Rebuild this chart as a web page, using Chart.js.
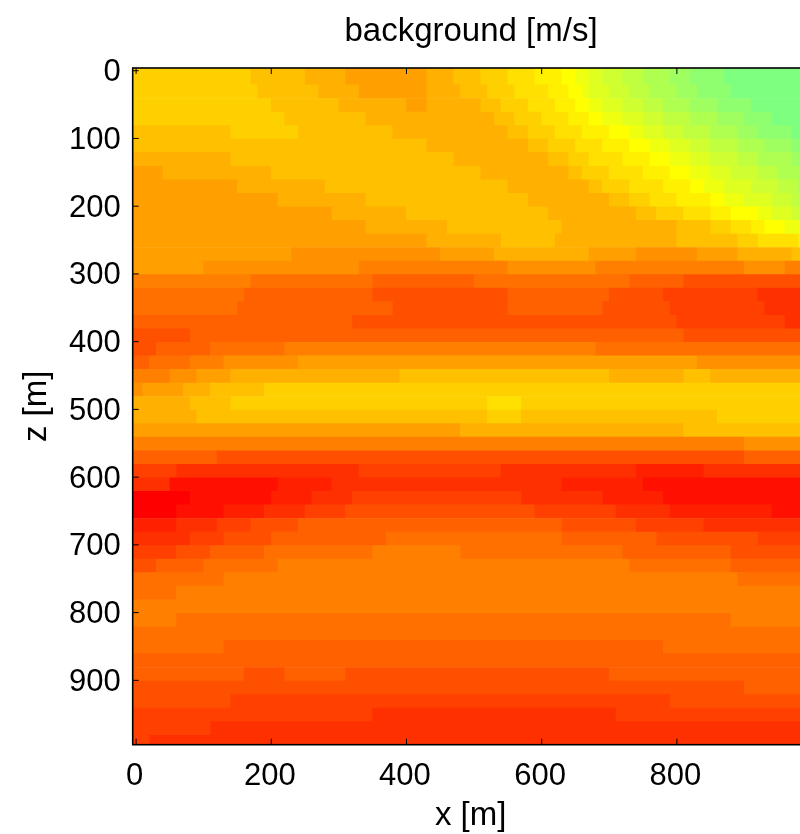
<!DOCTYPE html>
<html><head><meta charset="utf-8">
<style>html,body{margin:0;padding:0;background:#fff;overflow:hidden}
#wrap{width:800px;height:834px;overflow:hidden;position:relative}</style>
<script src="https://cdn.jsdelivr.net/npm/chart.js@4/dist/chart.umd.min.js"></script>
</head><body>
<div id="wrap"><canvas id="c" width="942" height="834"></canvas></div>
<script>
const titleText = "background [m/s]";
const xLabel = "x [m]";
const zLabel = "z [m]";
const xTicks = [0,200,400,600,800];
const zTicks = [0,100,200,300,400,500,600,700,800,900];
const xMin = -5, xMax = 995, zMin = -4, zMax = 995;
// centre depth of each 20 m row of the image
const rowZ = [-9,11,31,51,71,91,111,131,151,171,191,211,231,251,271,291,311,331,351,371,391,411,431,451,471,491,511,531,551,571,591,611,631,651,671,691,711,731,751,771,791,811,831,851,871,891,911,931,951,971,991];
// each row: colour-map level, x where that level ends, level, x where it ends, ...
// (level 0 = red, 8 = orange, 16 = yellow, 24 = light green)
const rowRuns = [
[13,170,12,250,11,310,10,430,11,470,12,510,13,550,14,590,15,630,16,650,17,670,18,690,19,720,20,750,21,790,22,820,23,870,24,1000],
[13,170,12,250,11,310,10,430,11,470,12,510,13,550,14,590,15,630,16,650,17,670,18,690,19,720,20,750,21,790,22,820,23,870,24,1000],
[13,180,12,270,11,330,10,430,11,480,12,520,13,560,14,610,15,640,16,660,17,670,18,700,19,730,20,760,21,800,22,830,23,880,24,1000],
[13,200,12,300,11,400,10,430,11,510,12,540,13,580,14,620,15,650,16,670,17,690,18,720,19,750,20,780,21,820,22,860,23,910,24,1000],
[13,220,12,340,11,530,12,560,13,600,14,640,15,670,16,690,17,720,18,750,19,780,20,820,21,860,22,900,23,940,24,1000],
[12,140,13,240,12,380,11,550,12,580,13,620,14,660,15,700,16,730,17,750,18,780,19,810,20,850,21,890,22,920,23,970,24,1000],
[12,430,11,580,12,610,13,650,14,690,15,730,16,760,17,790,18,820,19,850,20,890,21,930,22,970,23,1000],
[11,140,12,470,11,610,12,640,13,670,14,720,15,760,16,790,17,820,18,850,19,890,20,920,21,970,22,1000],
[10,40,11,200,12,510,11,640,12,660,13,700,14,750,15,790,16,820,17,850,18,880,19,920,20,950,21,1000],
[10,150,11,280,12,550,11,670,12,690,13,730,14,780,15,820,16,840,17,870,18,910,19,950,20,980,21,1000],
[10,210,11,340,12,580,11,700,12,730,13,760,14,800,15,850,16,870,17,900,18,940,19,970,20,1000],
[10,290,11,400,12,610,11,740,12,770,13,810,14,850,15,880,16,920,17,940,18,970,19,1000],
[10,340,11,460,12,630,11,800,12,850,13,880,14,910,15,930,16,960,17,1000],
[10,430,11,540,12,620,11,800,12,890,13,920,14,980,15,1000],
[10,230,9,450,10,530,11,670,10,740,9,830,10,890,11,970,12,1000],
[10,100,9,330,8,550,9,680,8,900,9,960,8,1000],
[8,170,7,350,6,500,7,730,6,810,5,1000],
[7,160,6,350,5,550,6,700,5,780,4,920,3,1000],
[7,150,6,380,5,550,6,690,5,790,4,930,3,1000],
[6,320,5,800,4,960,3,1000],
[5,80,6,810,5,1000],
[5,30,6,110,7,220,8,680,7,1000],
[6,20,7,80,8,130,9,240,10,830,9,1000],
[8,50,9,90,10,140,11,390,12,700,11,810,12,850,11,1000],
[9,10,10,70,11,110,12,190,13,1000],
[11,80,12,140,13,520,14,570,13,1000],
[11,90,12,520,13,570,12,860,13,1000],
[10,480,11,810,12,1000],
[8,900,9,1000],
[6,120,5,900,6,1000],
[4,60,3,330,4,540,3,740,2,840,3,1000],
[3,50,1,210,2,290,3,630,2,750,1,1000],
[0,80,1,200,2,260,3,320,4,570,3,690,2,780,1,1000],
[0,60,1,130,2,190,3,250,4,310,5,590,4,710,3,790,2,940,1,1000],
[2,60,3,120,4,170,5,240,6,630,5,740,4,840,3,1000],
[3,80,4,130,5,200,6,370,7,630,6,770,5,920,4,1000],
[4,60,5,110,6,190,7,350,8,480,7,720,6,880,5,1000],
[5,30,6,100,7,210,8,730,7,880,6,1000],
[7,130,8,890,7,1000],
[7,60,8,1000],
[8,1000],
[8,60,7,880,8,1000],
[7,1000],
[7,130,6,780,7,1000],
[6,1000],
[6,160,5,220,6,310,5,700,6,1000],
[5,900,6,1000],
[5,140,4,790,5,1000],
[4,350,3,710,4,1000],
[4,110,3,1000],
[4,20,3,1000]
];
function levelColor(l){
  if(l<=16) return `rgb(255,${Math.min(255,l*16)},0)`;
  const d=(l-16)*16; return `rgb(${255-d},255,${d})`;
}
const cells=[], cellColors=[];
rowRuns.forEach((runs,r)=>{
  let start=xMin;
  for(let i=0;i<runs.length;i+=2){
    cells.push({y:rowZ[r],x:[start,runs[i+1]]});
    cellColors.push(levelColor(runs[i]));
    start=runs[i+1];
  }
});
const FONT="'Liberation Sans', Arial, sans-serif";
const frame={
  id:'frame',
  afterDatasetsDraw(ch){
    const {ctx,chartArea:a,scales:{x,y}}=ch;
    ctx.save();
    ctx.strokeStyle='#000';
    ctx.lineWidth=1;
    ctx.beginPath();
    for(const t of x.ticks){const p=x.getPixelForValue(t.value);
      ctx.moveTo(p,a.bottom);ctx.lineTo(p,a.bottom-6);ctx.moveTo(p,a.top);ctx.lineTo(p,a.top+6);}
    for(const t of y.ticks){const p=y.getPixelForValue(t.value);
      ctx.moveTo(a.left,p);ctx.lineTo(a.left+6,p);ctx.moveTo(a.right,p);ctx.lineTo(a.right-6,p);}
    ctx.stroke();
    ctx.lineWidth=1.6;
    ctx.strokeRect(a.left,a.top,a.right-a.left,a.bottom-a.top);
    ctx.restore();
  }
};
new Chart(document.getElementById('c'),{
  type:'bar',
  data:{datasets:[{data:cells,backgroundColor:cellColors,barPercentage:1,categoryPercentage:1}]},
  plugins:[frame],
  options:{
    indexAxis:'y',
    responsive:false,animation:false,
    layout:{padding:0},
    plugins:{
      legend:{display:false},tooltip:{enabled:false},
      title:{display:true,text:titleText,color:'#000',font:{family:FONT,size:33,weight:'normal'},padding:{top:12,bottom:16.4}}
    },
    scales:{
      x:{type:'linear',offset:false,min:xMin,max:xMax,
        grid:{display:false,drawTicks:false},border:{display:false},
        afterBuildTicks(s){s.ticks=xTicks.map(v=>({value:v}));},
        afterFit(s){s.height=89.3;},
        ticks:{color:'#000',font:{family:FONT,size:31},padding:13,labelOffset:-1.5,maxRotation:0,autoSkip:false},
        title:{display:true,text:xLabel,color:'#000',font:{family:FONT,size:33},padding:{top:0,bottom:-2}}
      },
      y:{type:'linear',offset:false,reverse:true,min:zMin,max:zMax,
        grid:{display:false,drawTicks:false},border:{display:false},
        afterBuildTicks(s){s.ticks=zTicks.map(v=>({value:v}));},
        afterFit(s){s.width=132.7;},
        ticks:{color:'#000',font:{family:FONT,size:31},padding:12,labelOffset:2,autoSkip:false},
        title:{display:true,text:zLabel,color:'#000',font:{family:FONT,size:33},padding:{top:17,bottom:0}}
      },
      yRightSpace:{axis:'y',type:'linear',position:'right',min:0,max:1,
        grid:{display:false,drawTicks:false},border:{display:false},
        ticks:{display:false},
        afterFit(s){s.width=133.3;}
      }
    }
  }
});
</script>
</body></html>
